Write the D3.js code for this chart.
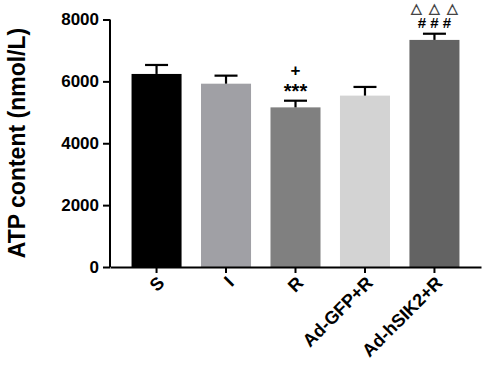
<!DOCTYPE html>
<html>
<head>
<meta charset="utf-8">
<script src="https://cdn.jsdelivr.net/npm/d3@7"></script>
<style>
  body { margin: 0; background: #fff; }
  text { font-family: "Liberation Sans", Arial, sans-serif; font-weight: bold; }
</style>
</head>
<body>
<div id="chart"></div>
<script>
// groups and measured values (ATP content, nmol/L)
const groups = ["S", "I", "R", "Ad-GFP+R", "Ad-hSIK2+R"]
const means = [6240, 5925, 5160, 5540, 7340]
const sems = [290, 260, 215, 280, 200]
const colors = ["#000000", "#a0a0a5", "#808080", "#d3d3d3", "#636363"]
const yTicks = [0, 2000, 4000, 6000, 8000]

// significance marks above the bars (bottom line first)
const marks = [
  { group: "R", lines: ["***", "+"] },
  { group: "Ad-hSIK2+R", lines: ["# # #", "\u25B3\u2002\u25B3\u2002\u25B3"] }
]

const width = 484
const height = 371

const svg = d3.select("#chart")
  .append("svg")
    .attr("width", width)
    .attr("height", height)

const x = d3.scaleBand()
  .domain(groups)
  .range([110, 481])
  .paddingInner(0.28)
  .paddingOuter(0.31)

const y = d3.scaleLinear()
  .domain([0, 8000])
  .range([267, 19.5])

// bars
svg.append("g")
  .selectAll("rect")
  .data(groups)
  .join("rect")
    .attr("x", d => x(d))
    .attr("y", (d, i) => y(means[i]))
    .attr("width", x.bandwidth())
    .attr("height", (d, i) => y(0) - y(means[i]))
    .attr("fill", (d, i) => colors[i])

// error bars (upper only)
const err = svg.append("g")
  .attr("stroke", "#000")
  .attr("stroke-width", 2.2)
groups.forEach((g, i) => {
  const cx = x(g) + x.bandwidth() / 2
  err.append("line")
    .attr("x1", cx).attr("x2", cx)
    .attr("y1", y(means[i])).attr("y2", y(means[i] + sems[i]))
  err.append("line")
    .attr("x1", cx - 11.5).attr("x2", cx + 11.5)
    .attr("y1", y(means[i] + sems[i])).attr("y2", y(means[i] + sems[i]))
})

// y axis
const yAxis = svg.append("g")
  .attr("transform", "translate(110,0)")
  .call(d3.axisLeft(y).tickValues(yTicks).tickSize(7).tickPadding(4).tickFormat(d3.format("d")))
yAxis.select(".domain").attr("d", `M0,${y(8000)}V${y(0)}`)
yAxis.selectAll("path, line").attr("stroke-width", 2)
yAxis.selectAll("text").attr("font-size", 17).attr("fill", "#000")

// x axis
const xAxis = svg.append("g")
  .attr("transform", "translate(0,267)")
  .call(d3.axisBottom(x).tickSize(6).tickSizeOuter(0))
xAxis.selectAll("path, line").attr("stroke-width", 2)
xAxis.selectAll("text")
  .attr("font-size", 18)
  .attr("fill", "#000")
  .attr("text-anchor", "end")
  .attr("dy", null)
  .attr("y", 0)
  .attr("transform", "translate(9,17) rotate(-45)")

// y title
svg.append("text")
  .attr("transform", "translate(25,143) rotate(-90)")
  .attr("text-anchor", "middle")
  .attr("font-size", 23)
  .text("ATP content (nmol/L)")

// significance marks: offset of line centre above the cap, font size
const markStyle = {
  "***": { off: 14, size: 20, shift: 11 },
  "+": { off: 30, size: 17, shift: 0 },
  "# # #": { off: 11, size: 15, shift: 0 },
  "tri": { off: 25.5, size: 13.5, shift: 0 }
}
marks.forEach(m => {
  const i = groups.indexOf(m.group)
  const cx = x(m.group) + x.bandwidth() / 2
  const top = y(means[i] + sems[i])
  m.lines.forEach(t => {
    const tri = t.startsWith("\u25B3")
    const s = markStyle[tri ? "tri" : t]
    const star = t === "***"
    svg.append("text")
      .attr("x", cx)
      .attr("y", top - s.off + s.shift)
      .attr("dominant-baseline", star ? "auto" : "central")
      .attr("text-anchor", "middle")
      .attr("font-size", s.size)
      .attr("font-weight", tri ? "normal" : "bold")
      .attr("font-family", tri ? "DejaVu Sans" : null)
      .attr("fill", tri ? "#444" : "#000")
      .text(t)
  })
})
</script>
</body>
</html>
